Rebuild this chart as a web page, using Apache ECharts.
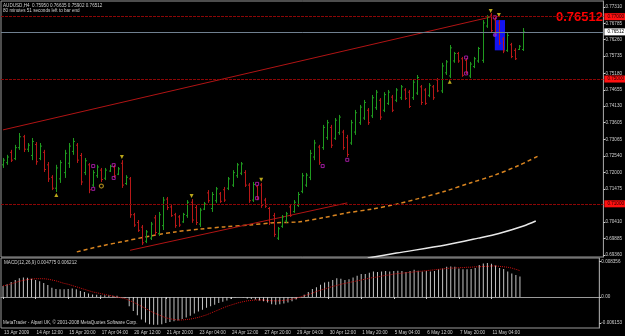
<!DOCTYPE html>
<html>
<head>
<meta charset="utf-8">
<script src="https://cdn.jsdelivr.net/npm/echarts@6/dist/echarts.min.js"></script>
<style>
  html, body { margin: 0; padding: 0; background: #000; }
  #chart { width: 625px; height: 336px; }
</style>
</head>
<body>
<div id="chart"></div>
<script>
// AUDUSD H4, 13 Apr - 12 May 2009
const timeLabels = ['13 Apr 2009', '14 Apr 12:00', '15 Apr 20:00', '17 Apr 04:00', '20 Apr 12:00', '21 Apr 20:00',
  '23 Apr 04:00', '24 Apr 12:00', '27 Apr 20:00', '29 Apr 04:00', '30 Apr 12:00', '1 May 20:00',
  '5 May 04:00', '6 May 12:00', '7 May 20:00', '11 May 04:00'];
const timeLabelBars = [0, 8, 16, 24, 32, 40, 48, 56, 64, 72, 80, 88, 96, 104, 112, 120];
const slotCount = 147;

const barOpen = [
  0.7225, 0.7232, 0.7265, 0.7245, 0.7280, 0.7315, 0.7275, 0.7255, 0.7290, 0.7245,
  0.7265, 0.7225, 0.7185, 0.7150, 0.7180, 0.7200, 0.7230, 0.7268, 0.7288, 0.7255,
  0.7200, 0.7225, 0.7160, 0.7190, 0.7208, 0.7182, 0.7205, 0.7218, 0.7195, 0.7230,
  0.7165, 0.7180, 0.7065, 0.7040, 0.7025, 0.6980, 0.6990, 0.7055, 0.7005, 0.7030,
  0.7115, 0.7090, 0.7065, 0.7058, 0.7042, 0.7062, 0.7105, 0.7088, 0.7035, 0.7083,
  0.7135, 0.7085, 0.7110, 0.7132, 0.7145, 0.7150, 0.7160, 0.7190, 0.7198, 0.7200,
  0.7160, 0.7112, 0.7155, 0.7160, 0.7112, 0.7085, 0.7062, 0.6990, 0.7028, 0.7045,
  0.7090, 0.7075, 0.7095, 0.7140, 0.7160, 0.7185, 0.7250, 0.7282, 0.7280, 0.7312,
  0.7345, 0.7310, 0.7328, 0.7330, 0.7312, 0.7295, 0.7330, 0.7360, 0.7375, 0.7400,
  0.7382, 0.7408, 0.7432, 0.7400, 0.7422, 0.7442, 0.7432, 0.7440, 0.7465, 0.7458,
  0.7440, 0.7455, 0.7475, 0.7465, 0.7448, 0.7475, 0.7497, 0.7462, 0.7520, 0.7510,
  0.7558, 0.7582, 0.7565, 0.7560, 0.7510, 0.7540, 0.7558, 0.7560, 0.7670, 0.7705,
  0.7690, 0.7680, 0.7628, 0.7592, 0.7610, 0.7592, 0.7595, 0.7595
];
const barClose = [
  0.7240, 0.7250, 0.7240, 0.7280, 0.7315, 0.7275, 0.7288, 0.7300, 0.7235, 0.7285,
  0.7210, 0.7180, 0.7150, 0.7215, 0.7232, 0.7262, 0.7285, 0.7300, 0.7240, 0.7170,
  0.7238, 0.7145, 0.7200, 0.7218, 0.7178, 0.7208, 0.7220, 0.7190, 0.7212, 0.7160,
  0.7185, 0.7065, 0.7032, 0.7015, 0.6975, 0.7010, 0.7035, 0.7008, 0.7065, 0.7112,
  0.7088, 0.7062, 0.7030, 0.7032, 0.7066, 0.7105, 0.7048, 0.7040, 0.7080, 0.7100,
  0.7110, 0.7130, 0.7148, 0.7108, 0.7112, 0.7180, 0.7200, 0.7225, 0.7228, 0.7160,
  0.7110, 0.7162, 0.7118, 0.7095, 0.7092, 0.7040, 0.7002, 0.7020, 0.7058, 0.7068,
  0.7062, 0.7105, 0.7130, 0.7190, 0.7192, 0.7262, 0.7295, 0.7232, 0.7345, 0.7360,
  0.7288, 0.7368, 0.7378, 0.7280, 0.7258, 0.7360, 0.7392, 0.7410, 0.7425, 0.7360,
  0.7440, 0.7458, 0.7378, 0.7450, 0.7458, 0.7400, 0.7465, 0.7475, 0.7438, 0.7412,
  0.7490, 0.7505, 0.7425, 0.7422, 0.7480, 0.7440, 0.7462, 0.7542, 0.7555, 0.7600,
  0.7582, 0.7558, 0.7512, 0.7522, 0.7548, 0.7565, 0.7598, 0.7680, 0.7700, 0.7655,
  0.7648, 0.7615, 0.7590, 0.7640, 0.7572, 0.7565, 0.7605, 0.76512
];
const barLow = [
  0.7215, 0.7225, 0.7234, 0.7240, 0.7273, 0.7266, 0.7266, 0.7240, 0.7225, 0.7240,
  0.7202, 0.7170, 0.7144, 0.7138, 0.7167, 0.7183, 0.7215, 0.7257, 0.7231, 0.7160,
  0.7192, 0.7134, 0.7154, 0.7183, 0.7170, 0.7176, 0.7202, 0.7183, 0.7192, 0.7151,
  0.7160, 0.7055, 0.7026, 0.7010, 0.6968, 0.6974, 0.6984, 0.7000, 0.6997, 0.7016,
  0.7080, 0.7058, 0.7023, 0.7026, 0.7039, 0.7055, 0.7039, 0.7032, 0.7026, 0.7080,
  0.7103, 0.7074, 0.7103, 0.7103, 0.7106, 0.7144, 0.7154, 0.7183, 0.7192, 0.7154,
  0.7103, 0.7106, 0.7112, 0.7087, 0.7087, 0.7032, 0.6994, 0.6984, 0.7023, 0.7039,
  0.7058, 0.7071, 0.7090, 0.7134, 0.7154, 0.7176, 0.7240, 0.7225, 0.7273, 0.7305,
  0.7279, 0.7305, 0.7321, 0.7273, 0.7250, 0.7289, 0.7321, 0.7353, 0.7369, 0.7353,
  0.7375, 0.7401, 0.7369, 0.7394, 0.7417, 0.7394, 0.7426, 0.7433, 0.7433, 0.7407,
  0.7433, 0.7449, 0.7417, 0.7417, 0.7442, 0.7433, 0.7458, 0.7455, 0.7513, 0.7503,
  0.7552, 0.7552, 0.7507, 0.7516, 0.7503, 0.7535, 0.7552, 0.7552, 0.7664, 0.7648,
  0.7641, 0.7609, 0.7583, 0.7587, 0.7567, 0.7561, 0.7593, 0.7590
];
const barHigh = [
  0.7247, 0.7257, 0.7273, 0.7289, 0.7327, 0.7321, 0.7295, 0.7311, 0.7298, 0.7295,
  0.7273, 0.7234, 0.7192, 0.7225, 0.7240, 0.7273, 0.7295, 0.7311, 0.7295, 0.7263,
  0.7247, 0.7231, 0.7208, 0.7225, 0.7215, 0.7215, 0.7225, 0.7225, 0.7218, 0.7240,
  0.7192, 0.7186, 0.7071, 0.7048, 0.7032, 0.7016, 0.7042, 0.7064, 0.7074, 0.7122,
  0.7122, 0.7096, 0.7071, 0.7064, 0.7071, 0.7112, 0.7115, 0.7096, 0.7087, 0.7106,
  0.7144, 0.7138, 0.7154, 0.7138, 0.7154, 0.7186, 0.7208, 0.7231, 0.7234, 0.7208,
  0.7167, 0.7170, 0.7160, 0.7167, 0.7119, 0.7090, 0.7071, 0.7026, 0.7064, 0.7074,
  0.7096, 0.7112, 0.7138, 0.7199, 0.7199, 0.7273, 0.7305, 0.7289, 0.7353, 0.7369,
  0.7353, 0.7375, 0.7385, 0.7337, 0.7321, 0.7369, 0.7401, 0.7417, 0.7433, 0.7407,
  0.7449, 0.7465, 0.7439, 0.7458, 0.7465, 0.7449, 0.7471, 0.7481, 0.7471, 0.7465,
  0.7497, 0.7513, 0.7481, 0.7471, 0.7487, 0.7481, 0.7503, 0.7552, 0.7561, 0.7609,
  0.7587, 0.7587, 0.7571, 0.7567, 0.7555, 0.7571, 0.7603, 0.7689, 0.7705, 0.7712,
  0.7699, 0.7689, 0.7635, 0.7648, 0.7616, 0.7599, 0.7609, 0.76635
];

// moving averages (bar index, price)
const orangeMaBars = [18, 24, 30, 36, 42, 48, 54, 60, 66, 72, 78, 84, 90, 96, 102, 108, 114, 120, 126, 131];
const orangeMaVals = [0.6946, 0.6965, 0.6981, 0.6997, 0.7010, 0.7019, 0.7026, 0.7032, 0.7039, 0.7042,
  0.7055, 0.7071, 0.7083, 0.7099, 0.7119, 0.7141, 0.7167, 0.7192, 0.7224, 0.7256];
const whiteMaBars = [89, 96, 108, 116, 121, 127, 130];
const whiteMaVals = [0.6926, 0.6942, 0.6968, 0.6990, 0.7005, 0.7029, 0.7045];

// drawn objects
const upperTrend = [[0, 0.7337], [119, 0.7699]];
const lowerTrend = [[31, 0.6951], [84, 0.7103]];
const levelLines = [0.7700, 0.7500, 0.7100];
const bidPrice = 0.76512;
const blueBox = [[120, 122, 0.7689, 0.7592]];

const arrowDownBars = [29, 46, 63, 119, 121];
const arrowDownVals = [0.7250, 0.7125, 0.7177, 0.7718, 0.7705];
const arrowUpBars = [13, 109];
const arrowUpVals = [0.7128, 0.7491];
const squareBars = [22, 22, 27, 27, 62, 62, 78, 84, 113, 113, 120];
const squareVals = [0.7221, 0.7148, 0.7224, 0.7183, 0.7164, 0.7118, 0.7221, 0.7241, 0.7569, 0.7518, 0.7698];
const circleBars = [24];
const circleVals = [0.7157];
const dotBars = [120];
const dotVals = [0.7641];

const priceTicks = [0.77310, 0.76785, 0.76260, 0.75735, 0.75180, 0.74655, 0.74130, 0.73605,
  0.73065, 0.72540, 0.72000, 0.71475, 0.70410, 0.69885, 0.69360];

// MACD(12,26,9)
const macdMain = [
  0.0026, 0.0030, 0.0035, 0.0040, 0.0044, 0.0046, 0.0045, 0.0043, 0.0040, 0.0037,
  0.0033, 0.0028, 0.0022, 0.0019, 0.0018, 0.0018, 0.0019, 0.0020, 0.0018, 0.0014,
  0.0012, 0.0008, 0.0006, 0.0005, 0.0004, 0.0004, 0.0004, 0.0003, 0.0003, 0.0000,
  -0.0002, -0.0022, -0.0033, -0.0043, -0.0053, -0.0060, -0.0064, -0.0065, -0.0065, -0.0064,
  -0.0061, -0.0059, -0.0057, -0.0055, -0.0052, -0.0048, -0.0044, -0.0039, -0.0034, -0.0030,
  -0.0025, -0.0022, -0.0018, -0.0014, -0.0011, -0.0008, -0.0005, -0.0002, 0.0000, -0.0001,
  -0.0004, -0.0005, -0.0006, -0.0008, -0.0010, -0.0013, -0.0017, -0.0018, -0.0017, -0.0015,
  -0.0013, -0.0010, -0.0006, 0.0000, 0.0005, 0.0012, 0.0019, 0.0023, 0.0029, 0.0034,
  0.0036, 0.0040, 0.0044, 0.0043, 0.0040, 0.0042, 0.0046, 0.0050, 0.0054, 0.0054,
  0.0057, 0.0060, 0.0059, 0.0060, 0.0061, 0.0060, 0.0061, 0.0062, 0.0061, 0.0059,
  0.0061, 0.0064, 0.0062, 0.0060, 0.0061, 0.0060, 0.0061, 0.0065, 0.0067, 0.0071,
  0.0072, 0.0071, 0.0067, 0.0065, 0.0065, 0.0066, 0.0068, 0.0075, 0.0079, 0.0080,
  0.0078, 0.0074, 0.0068, 0.0066, 0.0060, 0.0055, 0.0052, 0.0048
];
const macdSignal = [
  0.0026, 0.0028, 0.0031, 0.0034, 0.0037, 0.0039, 0.0041, 0.0042, 0.0043, 0.0043,
  0.0043, 0.0042, 0.0040, 0.0038, 0.0035, 0.0032, 0.0030, 0.0027, 0.0024, 0.0021,
  0.0018, 0.0015, 0.0012, 0.0010, 0.0008, 0.0006, 0.0004, 0.0002, 0.0000, -0.0002,
  -0.0004, -0.0008, -0.0012, -0.0017, -0.0022, -0.0027, -0.0032, -0.0037, -0.0041, -0.0045,
  -0.0049, -0.0051, -0.0053, -0.0054, -0.0054, -0.0053, -0.0052, -0.0050, -0.0048, -0.0045,
  -0.0042, -0.0038, -0.0034, -0.0030, -0.0026, -0.0022, -0.0019, -0.0016, -0.0013, -0.0011,
  -0.0009, -0.0008, -0.0007, -0.0007, -0.0007, -0.0008, -0.0009, -0.0009, -0.0009, -0.0008,
  -0.0007, -0.0005, -0.0003, 0.0000, 0.0003, 0.0006, 0.0009, 0.0013, 0.0016, 0.0019,
  0.0022, 0.0025, 0.0027, 0.0030, 0.0032, 0.0034, 0.0036, 0.0038, 0.0040, 0.0042,
  0.0044, 0.0046, 0.0047, 0.0049, 0.0051, 0.0052, 0.0054, 0.0055, 0.0056, 0.0057,
  0.0058, 0.0059, 0.0060, 0.0061, 0.0062, 0.0063, 0.0064, 0.0065, 0.0066, 0.0067,
  0.0068, 0.0068, 0.0069, 0.0069, 0.0070, 0.0070, 0.0071, 0.0071, 0.0072, 0.0072,
  0.0073, 0.0073, 0.0072, 0.0071, 0.0070, 0.0068, 0.0065, 0.0062
];
const macdTicks = [0.008356, 0, -0.006153];

const UP_COLOR = '#1f9a1f';
const DOWN_COLOR = '#b81818';
const TEXT_COLOR = '#d0d0d0';
const FRAME_COLOR = '#9a9a9a';
const SMALL = 4.6;

const categories = Array.from({ length: slotCount }, (_, i) => String(i));
const labelForBar = {};
timeLabelBars.forEach((b, k) => { labelForBar[b] = timeLabels[k]; });
const ohlcRows = barOpen.map((o, i) => [i, o, barClose[i], barLow[i], barHigh[i]]);
const pairs = (xs, ys) => xs.map((x, k) => [x, ys[k]]);

const chart = echarts.init(document.getElementById('chart'));

const priceLabel = (price, bg, fg) => ({
  show: true, position: 'end', distance: 1, formatter: () => price.toFixed(5),
  backgroundColor: bg, color: fg, fontSize: SMALL, padding: [1, 3]
});

const option = {
  animation: false,
  backgroundColor: '#000000',
  textStyle: { fontFamily: 'Liberation Sans' },
  grid: [
    { left: 1, top: 1, width: 604, height: 256, show: true, borderColor: FRAME_COLOR, borderWidth: 1 },
    { left: 1, top: 258, width: 604, height: 70, show: true, borderColor: FRAME_COLOR, borderWidth: 1 }
  ],
  xAxis: [
    {
      type: 'category', gridIndex: 0, data: categories,
      axisLine: { show: false }, axisTick: { show: false }, axisLabel: { show: false }, splitLine: { show: false }
    },
    {
      type: 'category', gridIndex: 1, data: categories,
      axisLine: { show: true, lineStyle: { color: FRAME_COLOR } },
      axisTick: {
        show: true, alignWithLabel: true, length: 2, interval: (idx) => idx in labelForBar,
        lineStyle: { color: TEXT_COLOR }
      },
      axisLabel: {
        interval: (idx) => idx in labelForBar, formatter: (v, idx) => labelForBar[idx] || '',
        align: 'left', color: TEXT_COLOR, fontSize: SMALL, margin: 2, padding: [0, 0, 0, 1]
      },
      splitLine: { show: false }
    }
  ],
  yAxis: [
    {
      type: 'value', gridIndex: 0, position: 'right', min: 0.69295, max: 0.77502,
      splitLine: { show: false },
      axisLine: { show: true, lineStyle: { color: FRAME_COLOR } },
      axisTick: { show: true, length: 2, customValues: priceTicks, lineStyle: { color: TEXT_COLOR } },
      axisLabel: { customValues: priceTicks, formatter: (v) => v.toFixed(5), color: TEXT_COLOR, fontSize: SMALL, margin: 2 }
    },
    {
      type: 'value', gridIndex: 1, position: 'right', min: -0.00729, max: 0.00917,
      splitLine: { show: false },
      axisLine: { show: true, lineStyle: { color: FRAME_COLOR } },
      axisTick: { show: true, length: 2, customValues: macdTicks, lineStyle: { color: TEXT_COLOR } },
      axisLabel: {
        customValues: macdTicks, formatter: (v) => (v === 0 ? '0.00' : v.toFixed(6)),
        color: TEXT_COLOR, fontSize: SMALL, margin: 2
      }
    }
  ],
  graphic: [
    { type: 'text', left: 3, top: 3, style: { text: 'AUDUSD,H4  0.75950 0.76635 0.75902 0.76512', fill: TEXT_COLOR, fontSize: SMALL, fontFamily: 'Liberation Sans' } },
    { type: 'text', left: 3, top: 8.5, style: { text: '80 minutes 51 seconds left to bar end', fill: TEXT_COLOR, fontSize: SMALL, fontFamily: 'Liberation Sans' } },
    { type: 'text', right: 22, top: 11, style: { text: barClose[barClose.length - 1].toFixed(5), fill: '#ff0000', fontSize: 13, fontWeight: 'bold', fontFamily: 'Liberation Sans' } },
    { type: 'text', left: 4, top: 260, style: { text: 'MACD(12,26,9) 0.004775 0.006212', fill: TEXT_COLOR, fontSize: SMALL, fontFamily: 'Liberation Sans' } },
    { type: 'text', left: 3, top: 320, style: { text: 'MetaTrader - Alpari UK, \u00a9 2001-2008 MetaQuotes Software Corp.', fill: TEXT_COLOR, fontSize: SMALL, fontFamily: 'Liberation Sans' } }
  ],
  series: [
    {
      // blue selection box behind the bars
      type: 'custom', xAxisIndex: 0, yAxisIndex: 0, z: 1, silent: true,
      data: blueBox,
      renderItem: (params, api) => {
        const a = api.coord([api.value(0), api.value(2)]);
        const b = api.coord([api.value(1), api.value(3)]);
        return { type: 'rect', shape: { x: a[0], y: a[1], width: b[0] - a[0] + 2, height: b[1] - a[1] }, style: { fill: '#1414f0' } };
      }
    },
    {
      type: 'line', xAxisIndex: 0, yAxisIndex: 0, z: 2, data: pairs(whiteMaBars, whiteMaVals),
      showSymbol: false, smooth: 0.3, lineStyle: { color: '#e8e8e8', width: 1.5 },
      markLine: {
        symbol: 'none', silent: true, animation: false, precision: 5,
        data: levelLines.map((price) => ({
          yAxis: price,
          lineStyle: { color: '#8c0606', width: 1, type: [3, 1] },
          label: priceLabel(price, '#ff1010', '#200000')
        }))
      }
    },
    {
      type: 'line', xAxisIndex: 0, yAxisIndex: 0, z: 2, data: pairs(orangeMaBars, orangeMaVals),
      showSymbol: false, smooth: 0.3, lineStyle: { color: '#d88420', width: 1.5, type: [4, 3] },
      markLine: {
        symbol: 'none', silent: true, animation: false, precision: 5,
        data: [{
          yAxis: bidPrice,
          lineStyle: { color: '#708090', width: 1, type: 'solid' },
          label: priceLabel(bidPrice, '#ffffff', '#000000')
        }]
      }
    },
    {
      type: 'line', xAxisIndex: 0, yAxisIndex: 0, z: 2, data: upperTrend,
      showSymbol: false, lineStyle: { color: '#b01414', width: 1 }
    },
    {
      type: 'line', xAxisIndex: 0, yAxisIndex: 0, z: 2, data: lowerTrend,
      showSymbol: false, lineStyle: { color: '#b01414', width: 1 }
    },
    {
      type: 'custom', xAxisIndex: 0, yAxisIndex: 0, z: 3,
      data: ohlcRows,
      encode: { x: 0, y: [1, 2, 3, 4] },
      renderItem: (params, api) => {
        const i = api.value(0);
        const o = api.value(1), c = api.value(2);
        const top = api.coord([i, api.value(4)]);
        const bottom = api.coord([i, api.value(3)]);
        const po = api.coord([i, o]);
        const pc = api.coord([i, c]);
        const x = Math.round(top[0]) + 0.5;
        const style = { stroke: c >= o ? UP_COLOR : DOWN_COLOR, lineWidth: 1 };
        return {
          type: 'group',
          children: [
            { type: 'line', shape: { x1: x, y1: top[1], x2: x, y2: bottom[1] }, style },
            { type: 'line', shape: { x1: x - 1.5, y1: po[1], x2: x, y2: po[1] }, style },
            { type: 'line', shape: { x1: x, y1: pc[1], x2: x + 1.5, y2: pc[1] }, style }
          ]
        };
      }
    },
    {
      type: 'scatter', xAxisIndex: 0, yAxisIndex: 0, z: 4, data: pairs(arrowDownBars, arrowDownVals),
      symbol: 'triangle', symbolRotate: 180, symbolSize: 4, itemStyle: { color: '#e8d020' }
    },
    {
      type: 'scatter', xAxisIndex: 0, yAxisIndex: 0, z: 4, data: pairs(arrowUpBars, arrowUpVals),
      symbol: 'triangle', symbolSize: 4, itemStyle: { color: '#e8d020' }
    },
    {
      type: 'scatter', xAxisIndex: 0, yAxisIndex: 0, z: 4, data: pairs(squareBars, squareVals),
      symbol: 'rect', symbolSize: 3, itemStyle: { color: 'transparent', borderColor: '#c020c0', borderWidth: 1 }
    },
    {
      type: 'scatter', xAxisIndex: 0, yAxisIndex: 0, z: 4, data: pairs(circleBars, circleVals),
      symbol: 'circle', symbolSize: 4, itemStyle: { color: 'transparent', borderColor: '#c8a020', borderWidth: 1.2 }
    },
    {
      type: 'scatter', xAxisIndex: 0, yAxisIndex: 0, z: 4, data: pairs(dotBars, dotVals),
      symbol: 'circle', symbolSize: 4, itemStyle: { color: '#8a2be2' }
    },
    {
      type: 'bar', xAxisIndex: 1, yAxisIndex: 1, data: macdMain, barWidth: 1,
      itemStyle: { color: '#c4c4c4' }
    },
    {
      type: 'line', xAxisIndex: 1, yAxisIndex: 1, data: macdSignal, showSymbol: false,
      lineStyle: { color: '#d01010', width: 1, type: 'dotted' }
    }
  ]
};

chart.setOption(option);
</script>
</body>
</html>
